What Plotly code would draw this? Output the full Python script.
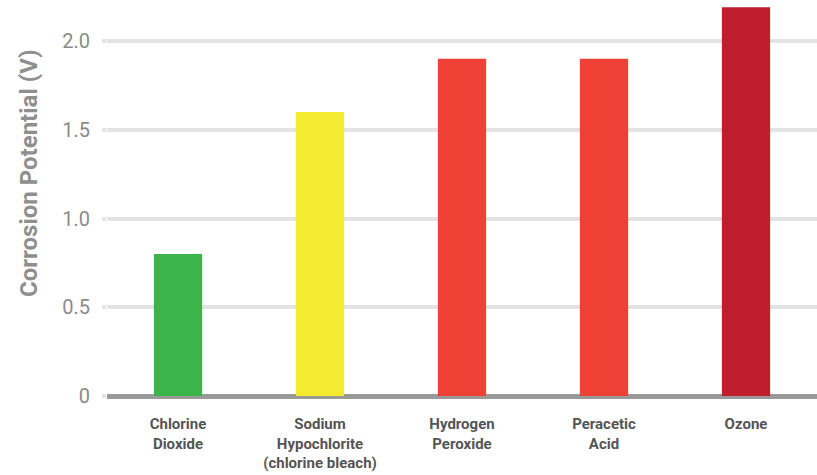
import plotly.graph_objects as go

# Disinfectant corrosion potentials
categories = ["Chlorine<br>Dioxide", "Sodium<br>Hypochlorite<br>(chlorine bleach)",
              "Hydrogen<br>Peroxide", "Peracetic<br>Acid", "Ozone"]
potential_v = [0.8, 1.6, 1.9, 1.9, 2.19]
bar_colors = ["#3bb44a", "#f2eb2f", "#ef4136", "#ef4136", "#be1e2d"]
tick_vals = [0, 0.5, 1.0, 1.5, 2.0]
tick_text = ["0", "0.5", "1.0", "1.5", "2.0"]

FONT = "Roboto, sans-serif"

fig = go.Figure(
    go.Bar(
        x=categories,
        y=potential_v,
        marker=dict(color=bar_colors, line=dict(width=0)),
        hoverinfo="x+y",
    )
)

fig.update_layout(
    width=817,
    height=475,
    margin=dict(l=107, r=0, t=0, b=79),
    paper_bgcolor="white",
    plot_bgcolor="white",
    bargap=0.66,
    showlegend=False,
    font=dict(family=FONT),
    annotations=[
        dict(
            text="Corrosion Potential (V)",
            textangle=-90,
            xref="paper", yref="paper",
            x=-0.11, y=0.563,
            xanchor="center", yanchor="middle",
            showarrow=False,
            font=dict(family=FONT, size=24, color="#8f8f8f", weight="bold"),
        )
    ],
)

fig.update_xaxes(
    showgrid=False,
    showline=False,
    ticks="",
    automargin=False,
    ticklabelstandoff=17,
    tickfont=dict(family=FONT, size=15, color="#555555", weight="bold"),
    fixedrange=True,
)

fig.update_yaxes(
    range=[0, 2.231],
    tickvals=tick_vals,
    ticktext=tick_text,
    showgrid=True,
    gridcolor="#e3e3e3",
    gridwidth=4,
    zeroline=True,
    zerolinecolor="#999999",
    zerolinewidth=5,
    showline=False,
    ticks="outside",
    ticklen=4,
    tickwidth=4,
    tickcolor="#e3e3e3",
    ticklabelstandoff=8,
    automargin=False,
    tickfont=dict(family=FONT, size=20, color="#8a8a8a"),
    fixedrange=True,
)

fig.write_html("out.html")
